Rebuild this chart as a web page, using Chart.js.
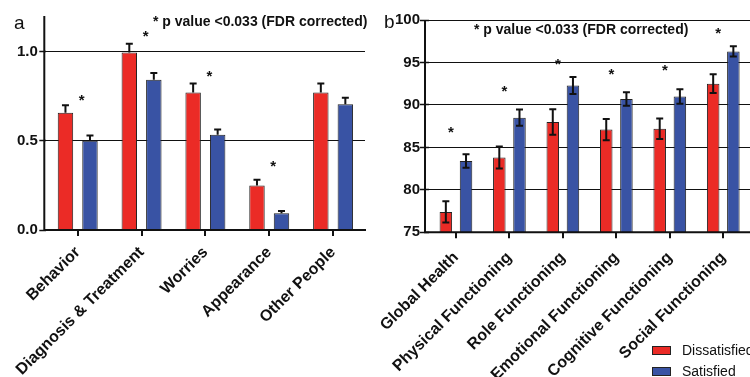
<!DOCTYPE html>
<html><head><meta charset="utf-8">
<script src="https://cdn.jsdelivr.net/npm/chart.js@4.4.1/dist/chart.umd.min.js"></script>
<style>
html,body{margin:0;padding:0;background:#fff;}
#wrap{position:relative;width:750px;height:377px;overflow:hidden;font-family:"Liberation Sans",Arial,sans-serif;color:#111;}
.cv{position:absolute;top:0;width:375px;height:377px;}
.t{position:absolute;line-height:1;white-space:nowrap;}
.note{font-size:14px;font-weight:bold;}
.lbl{font-size:19px;}
.leg{font-size:14px;}
.sw{position:absolute;width:17px;height:7px;border:1px solid #222;}
</style></head>
<body><div id="wrap">
<div class="cv" style="left:0"><canvas id="ca" width="375" height="377"></canvas></div>
<div class="cv" style="left:375px"><canvas id="cb" width="375" height="377"></canvas></div>
<div class="t lbl" style="left:14px;top:13px">a</div>
<div class="t lbl" style="left:384px;top:12px">b</div>
<div class="t note" style="left:153px;top:14px">* p value &lt;0.033 (FDR corrected)</div>
<div class="t note" style="left:474px;top:22px">* p value &lt;0.033 (FDR corrected)</div>
<div class="sw" style="left:652px;top:346px;background:#eb2b26"></div>
<div class="t leg" style="left:682px;top:343px">Dissatisfied</div>
<div class="sw" style="left:652px;top:367px;background:#3953a4"></div>
<div class="t leg" style="left:682px;top:364px">Satisfied</div>
</div>
<script>
// ---------- data: panel a ----------
const categoriesA = ['Behavior', 'Diagnosis & Treatment', 'Worries', 'Appearance', 'Other People'];
const dissatisfiedA = [0.658, 0.995, 0.771, 0.250, 0.771];
const dissatisfiedErrA = [0.042, 0.050, 0.050, 0.032, 0.050];
const satisfiedA = [0.500, 0.842, 0.534, 0.094, 0.705];
const satisfiedErrA = [0.030, 0.038, 0.030, 0.013, 0.036];
const starsA = [0.75, 1.11, 0.887, 0.38, null];
const yTicksA = [0, 0.5, 1.0];

// ---------- data: panel b ----------
const categoriesB = ['Global Health', 'Physical Functioning', 'Role Functioning', 'Emotional Functioning', 'Cognitive Functioning', 'Social Functioning'];
const dissatisfiedB = [77.4, 83.8, 88.0, 87.1, 87.2, 92.5];
const dissatisfiedErrB = [1.25, 1.3, 1.5, 1.25, 1.2, 1.1];
const satisfiedB = [83.4, 88.5, 92.3, 90.7, 91.0, 96.3];
const satisfiedErrB = [0.8, 0.95, 1.0, 0.8, 0.85, 0.6];
const starsB = [87.25, 92.1, 95.2, 94.1, 94.5, 98.95];
const yTicksB = [75, 80, 85, 90, 95, 100];

const seriesNames = ['Dissatisfied', 'Satisfied'];
const RED = '#eb2b26', BLUE = '#3953a4', INK = '#111';
const FONT = 'Liberation Sans, Arial, sans-serif';

function makePlugins(cfg) {
  return [{
    id: 'decor_' + cfg.key,
    afterDatasetsDraw(chart) {
      const ctx = chart.ctx, ca = chart.chartArea;
      const ys = chart.scales.y, xs = chart.scales.x;
      ctx.save();
      // error bars
      ctx.strokeStyle = INK; ctx.lineWidth = 2; ctx.lineCap = 'butt';
      cfg.errors.forEach((errs, di) => {
        const meta = chart.getDatasetMeta(di);
        const vals = chart.data.datasets[di].data;
        meta.data.forEach((bar, j) => {
          const v = vals[j], e = errs[j];
          const yTop = ys.getPixelForValue(v + e);
          const yBot = cfg.both ? ys.getPixelForValue(v - e) : ys.getPixelForValue(v);
          ctx.beginPath();
          ctx.moveTo(bar.x, yBot); ctx.lineTo(bar.x, yTop);
          ctx.moveTo(bar.x - cfg.cap, yTop); ctx.lineTo(bar.x + cfg.cap, yTop);
          if (cfg.both) { ctx.moveTo(bar.x - cfg.cap, yBot); ctx.lineTo(bar.x + cfg.cap, yBot); }
          ctx.stroke();
        });
      });
      // axis lines
      const x0 = ca.left - cfg.gap;
      ctx.lineWidth = 2;
      ctx.beginPath();
      ctx.moveTo(x0, ca.top); ctx.lineTo(x0, ca.bottom + 1);
      ctx.moveTo(x0 - 1, ca.bottom); ctx.lineTo(ca.right + cfg.ext, ca.bottom);
      ctx.stroke();
      // significance stars
      ctx.fillStyle = INK;
      ctx.font = 'bold 15px ' + FONT;
      ctx.textAlign = 'center'; ctx.textBaseline = 'alphabetic';
      cfg.stars.forEach((s, j) => {
        if (s === null) return;
        const x = xs.getPixelForValue(j) + cfg.starDx;
        const y = ys.getPixelForValue(s) + 0.58 * 15;
        ctx.fillText('*', x, y);
      });
      ctx.restore();
    }
  }];
}

function makeChart(id, cfg) {
  return new Chart(document.getElementById(id), {
    type: 'bar',
    data: {
      labels: cfg.labels,
      datasets: [
        { label: seriesNames[0], data: cfg.d0, backgroundColor: RED },
        { label: seriesNames[1], data: cfg.d1, backgroundColor: BLUE }
      ].map(d => Object.assign(d, {
        borderColor: '#222', borderWidth: 1,
        categoryPercentage: cfg.catPct, barPercentage: cfg.barPct
      }))
    },
    options: {
      responsive: false, animation: false, devicePixelRatio: 1,
      layout: { padding: { top: cfg.top, right: cfg.right, left: 0, bottom: 0 } },
      plugins: { legend: { display: false }, tooltip: { enabled: false } },
      scales: {
        x: {
          offset: true,
          border: { display: false },
          grid: { offset: false, drawOnChartArea: false, drawTicks: true, tickLength: 6, lineWidth: 2, color: INK },
          ticks: { autoSkip: false, minRotation: 45, maxRotation: 45, padding: cfg.xPad, color: INK,
                   font: { family: FONT, size: 16, weight: 'bold' } },
          afterFit: s => { s.height = cfg.xH; s.paddingLeft = 0; s.paddingRight = 0; }
        },
        y: {
          min: cfg.min, max: cfg.max,
          border: { display: false },
          grid: { color: INK, lineWidth: 1, tickLength: cfg.tickLen, tickWidth: 1.5 },
          ticks: { padding: cfg.tickPad, color: INK, font: { family: FONT, size: 15, weight: 'bold' },
                   callback: cfg.fmt },
          afterBuildTicks: s => { s.ticks = cfg.yTicks.map(v => ({ value: v })); },
          afterFit: s => { s.width = cfg.yW; s.paddingTop = 0; s.paddingBottom = 0; }
        }
      }
    },
    plugins: makePlugins(cfg)
  });
}

makeChart('ca', {
  key: 'a', labels: categoriesA, d0: dissatisfiedA, d1: satisfiedA,
  errors: [dissatisfiedErrA, satisfiedErrA], both: false, cap: 3.5,
  stars: starsA, starDx: 4, yTicks: yTicksA, min: 0, max: 1.2,
  fmt: v => Number(v).toFixed(1),
  top: 16, right: 10, xH: 147, yW: 45.8, tickLen: 6.5, tickPad: 1.5, gap: 1.5, ext: 1,
  catPct: 0.768, barPct: 0.63, xPad: 7
});
makeChart('cb', {
  key: 'b', labels: categoriesB, d0: dissatisfiedB, d1: satisfiedB,
  errors: [dissatisfiedErrB, satisfiedErrB], both: true, cap: 3.5,
  stars: starsB, starDx: -5, yTicks: yTicksB, min: 75, max: 100,
  fmt: v => String(v),
  top: 20, right: 0, xH: 144.7, yW: 54.2, tickLen: 9.2, tickPad: 0, gap: 4.2, ext: 2,
  catPct: 0.755, barPct: 0.62, xPad: 10
});
</script>
</body></html>
